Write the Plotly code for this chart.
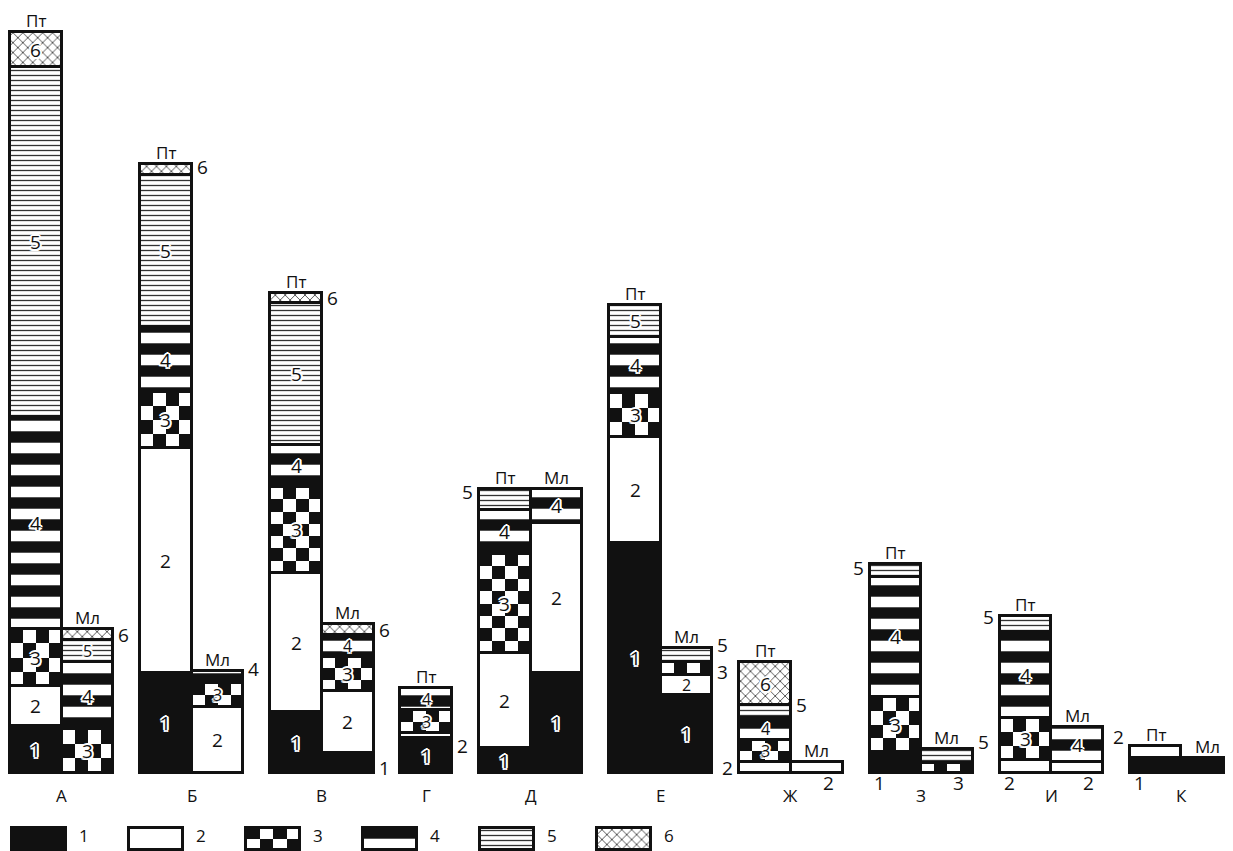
import plotly.graph_objects as go

# ---------------- data ----------------
groups = ["А", "Б", "В", "Г", "Д", "Е", "Ж", "З", "И", "К"]
group_bars = [["Пт", "Мл"], ["Пт", "Мл"], ["Пт", "Мл"], ["Пт"], ["Пт", "Мл"],
              ["Пт", "Мл"], ["Пт", "Мл"], ["Пт", "Мл"], ["Пт", "Мл"], ["Пт", "Мл"]]
layer_names = ["1", "2", "3", "4", "5", "6"]

# thickness of each layer type, per bar (order: А-Пт, А-Мл, Б-Пт, Б-Мл, В-Пт, В-Мл, Г-Пт,
# Д-Пт, Д-Мл, Е-Пт, Е-Мл, Ж-Пт, Ж-Мл, З-Пт, З-Мл, И-Пт, И-Мл, К-Пт, К-Мл)
layer1 = [4.7, 0, 10.0, 0, 6.1, 2.0, 3.5, 2.5, 10.0, 23.0, 7.8, 0, 0, 2.1, 0, 0, 0, 1.5, 1.5]
layer2 = [4.0, 0, 22.5, 6.6, 13.9, 6.2, 0.5, 9.5, 15.0, 10.6, 2.0, 1.1, 1.1, 0, 0, 1.3, 1.1, 1.2, 0]
layer3 = [5.7, 4.4, 5.6, 2.4, 8.6, 3.4, 2.3, 9.9, 0, 4.4, 1.3, 2.2, 0, 5.5, 1.0, 4.2, 0, 0, 0]
layer4 = [21.2, 6.7, 6.5, 1.2, 4.2, 2.2, 2.2, 4.4, 3.4, 5.6, 0, 2.2, 0, 12.0, 0, 8.6, 3.5, 0, 0]
layer5 = [35.0, 2.2, 15.2, 0, 14.2, 0, 0, 2.1, 0, 3.2, 1.4, 1.3, 0, 1.3, 1.4, 1.6, 0, 0, 0]
layer6 = [3.5, 1.1, 1.1, 0, 1.0, 1.1, 0, 0, 0, 0, 0, 4.3, 0, 0, 0, 0, 0, 0, 0]
layers = [layer1, layer2, layer3, layer4, layer5, layer6]

# ---------------- layout / style ----------------
OFF = 8              # page body margin
W, H = 1233 - OFF, 851 - OFF
PX_X = 51.6          # px per x unit (bar width = 1 unit)
PX_Y = 10.0          # px per y unit
LEFT_PX = 10 - OFF   # left edge of first bar
BASE_PX = 773 - OFF  # baseline
GAP = 0.5225
FONT = "Open Sans"

# where the layer number is written (default: inside the segment), with a vertical shift in px
label_mode = {(1, 6): ("right", 0), (2, 6): ("right", 3), (3, 4): ("right", 8),
              (4, 6): ("right", 0), (5, 1): ("right", -5), (5, 6): ("right", 0),
              (6, 2): ("right", -10), (7, 5): ("left", 8), (10, 3): ("right", -3),
              (10, 5): ("right", 10), (11, 2): ("left", 0), (11, 5): ("right", 7),
              (12, 2): ("belowR", 0), (13, 1): ("belowL", 0), (13, 5): ("left", 3),
              (14, 3): ("belowR", 0), (14, 5): ("right", 14), (15, 2): ("belowL", 0),
              (15, 5): ("left", 7), (16, 2): ("belowR", 0), (17, 1): ("belowL", 0),
              (17, 2): ("left", 15), (18, 1): ("belowR", 0)}

halo = ("2px 0 0 white, -2px 0 0 white, 0 2px 0 white, 0 -2px 0 white, "
        "1.5px 1.5px 0 white, -1.5px 1.5px 0 white, 1.5px -1.5px 0 white, -1.5px -1.5px 0 white")

LINE = dict(color="#111", width=3)
patterns = {
    1: dict(color="#111", pattern=None),
    2: dict(color="white", pattern=None),
    3: dict(color="rgba(0,0,0,0)", pattern=None),
    4: dict(color="white", pattern=dict(shape="-", size=22, solidity=0.52, fgcolor="#111",
                                        bgcolor="white", fgopacity=1, fillmode="replace")),
    5: dict(color="white", pattern=dict(shape="-", size=5, solidity=0.26, fgcolor="#333",
                                        bgcolor="white", fgopacity=1, fillmode="replace")),
    6: dict(color="white", pattern=dict(shape="x", size=7, solidity=0.22, fgcolor="#333",
                                        bgcolor="white", fgopacity=1, fillmode="replace")),
}

# bar positions
centers, bar_kinds, group_centers = [], [], []
xpos = 0.0
for kinds in group_bars:
    start = xpos
    for k in kinds:
        centers.append(xpos + 0.5)
        bar_kinds.append(k)
        xpos += 1.0
    group_centers.append((start + xpos) / 2)
    xpos += GAP

x_range = [-LEFT_PX / PX_X, (W - LEFT_PX) / PX_X]
y_range = [-(H - BASE_PX) / PX_Y, BASE_PX / PX_Y]

fig = go.Figure()
annotations = []


def checker(x0, x1, y0, y1, ncols, nrows):
    xs = [x0 + (x1 - x0) * i / ncols for i in range(ncols + 1)]
    ys = [y0 + (y1 - y0) * j / nrows for j in range(nrows + 1)]
    z = [[(r + c) % 2 for c in range(ncols)] for r in range(nrows)]
    return go.Heatmap(x=xs, y=ys, z=z, zmin=0, zmax=1,
                      colorscale=[[0, "white"], [1, "#111"]], showscale=False,
                      hoverinfo="skip")


# stacked columns
bases = [0.0] * len(centers)
for t, vals in enumerate(layers, start=1):
    st = patterns[t]
    marker = dict(color=st["color"], line=LINE)
    if st["pattern"]:
        marker["pattern"] = st["pattern"]
    fig.add_trace(go.Bar(x=centers, y=vals, base=list(bases), width=1.0,
                         marker=marker, showlegend=False, hoverinfo="skip"))
    for i, v in enumerate(vals):
        if v <= 0:
            continue
        b = bases[i]
        if t == 3:
            rows = max(1, round(v * PX_Y / 13))
            fig.add_trace(checker(centers[i] - 0.5, centers[i] + 0.5, b, b + v, 4, rows))
        mode, dy = label_mode.get((i, t), ("in", 0))
        size = 19 if (mode != "in" or v >= 2.5) else 16
        font = dict(family=FONT, size=size, color="#111")
        ann = dict(text=layer_names[t - 1], showarrow=False, font=font, yshift=dy)
        if mode == "in":
            if t != 2:
                font["shadow"] = halo
            ann.update(x=centers[i], y=b + v / 2, borderpad=0)
        elif mode == "right":
            ann.update(x=centers[i] + 0.5, y=b + v / 2, xanchor="left", xshift=3)
        elif mode == "left":
            ann.update(x=centers[i] - 0.5, y=b + v / 2, xanchor="right", xshift=-4)
        elif mode == "belowL":
            ann.update(x=centers[i] - 0.5, y=-1.0, xshift=10)
        elif mode == "belowR":
            ann.update(x=centers[i] + 0.5, y=-1.0, xshift=-14)
        annotations.append(ann)
        bases[i] += v

# Пт / Мл captions
for c, k, top in zip(centers, bar_kinds, bases):
    annotations.append(dict(x=c, y=top, text=k, showarrow=False, yanchor="bottom", yshift=-1,
                            borderpad=0, font=dict(family=FONT, size=17, color="#111")))

# group letters
for gx, g in zip(group_centers, groups):
    annotations.append(dict(x=gx, y=-2.2, text=g, showarrow=False,
                            font=dict(family=FONT, size=17, color="#111")))

# legend row
LEG_STEP = 117 / PX_X
LEG_X0 = (12 - 10) / PX_X
LEG_W = 54 / PX_X
LEG_BASE = (BASE_PX - (850 - OFF)) / PX_Y
LEG_H = 22 / PX_Y
for t in range(1, 7):
    st = patterns[t]
    lx = LEG_X0 + (t - 1) * LEG_STEP + LEG_W / 2
    if t == 3:
        fig.add_trace(checker(lx - LEG_W / 2, lx + LEG_W / 2, LEG_BASE, LEG_BASE + LEG_H, 4, 2))
    marker = dict(color=st["color"], line=LINE)
    if st["pattern"]:
        marker["pattern"] = st["pattern"]
    fig.add_trace(go.Bar(x=[lx], y=[LEG_H], base=[LEG_BASE], width=LEG_W, marker=marker,
                         showlegend=False, hoverinfo="skip"))
    annotations.append(dict(x=lx + LEG_W / 2, y=(BASE_PX - (835 - OFF)) / PX_Y,
                            text=layer_names[t - 1], showarrow=False, xanchor="left", xshift=11,
                            font=dict(family=FONT, size=17, color="#111")))

fig.update_layout(
    width=W, height=H, margin=dict(l=0, r=0, t=0, b=0, autoexpand=False),
    paper_bgcolor="white", plot_bgcolor="white",
    barmode="overlay", bargap=0,
    xaxis=dict(range=x_range, visible=False, fixedrange=True),
    yaxis=dict(range=y_range, visible=False, fixedrange=True),
    annotations=annotations,
    showlegend=False,
)

fig.write_html("out.html")
